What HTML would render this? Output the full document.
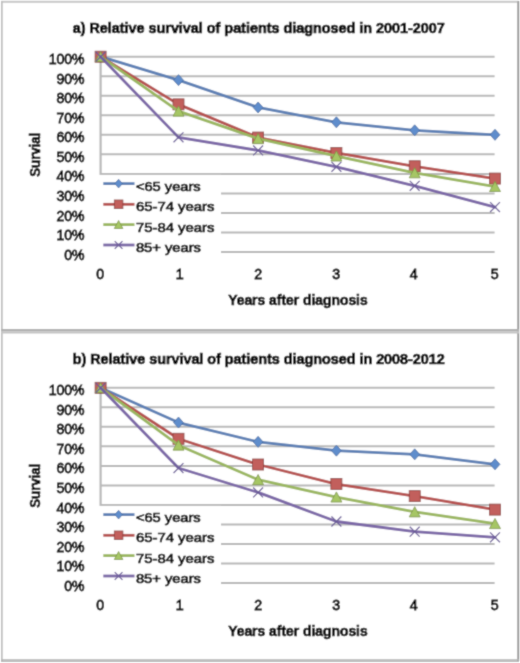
<!DOCTYPE html>
<html><head><meta charset="utf-8"><title>Relative survival</title>
<style>
html,body{margin:0;padding:0;background:#fff;}
body{width:520px;height:663px;overflow:hidden;}
svg{display:block;}
text{font-family:"Liberation Sans", sans-serif;fill:#000;}
.yl{font-size:14px;stroke:#000;stroke-width:0.8px;}
.xl{font-size:14.2px;stroke:#000;stroke-width:0.85px;}
.lg{font-size:13.4px;stroke:#000;stroke-width:0.7px;}
.tt{font-size:14.2px;font-weight:bold;stroke:#000;stroke-width:0.7px;}
.at{font-size:14.2px;font-weight:bold;stroke:#000;stroke-width:0.6px;}
</style></head>
<body>
<svg width="520" height="663" viewBox="0 0 520 663">
<defs><filter id="soft" x="0" y="0" width="520" height="663" filterUnits="userSpaceOnUse"><feConvolveMatrix order="3" kernelMatrix="0.03 0.1 0.03 0.1 0.48 0.1 0.03 0.1 0.03" edgeMode="duplicate" preserveAlpha="true"/></filter></defs>
<g filter="url(#soft)">
<rect width="520" height="663" fill="#fff"/>
<line x1="100.60" y1="252.00" x2="494.6" y2="252.00" stroke="#b8b8b8" stroke-width="2.0"/>
<line x1="100.60" y1="232.47" x2="494.6" y2="232.47" stroke="#b8b8b8" stroke-width="2.0"/>
<line x1="100.60" y1="212.94" x2="494.6" y2="212.94" stroke="#b8b8b8" stroke-width="2.0"/>
<line x1="100.60" y1="193.41" x2="494.6" y2="193.41" stroke="#b8b8b8" stroke-width="2.0"/>
<line x1="100.60" y1="173.88" x2="494.6" y2="173.88" stroke="#b8b8b8" stroke-width="2.0"/>
<line x1="100.60" y1="154.35" x2="494.6" y2="154.35" stroke="#b8b8b8" stroke-width="2.0"/>
<line x1="100.60" y1="134.82" x2="494.6" y2="134.82" stroke="#b8b8b8" stroke-width="2.0"/>
<line x1="100.60" y1="115.29" x2="494.6" y2="115.29" stroke="#b8b8b8" stroke-width="2.0"/>
<line x1="100.60" y1="95.76" x2="494.6" y2="95.76" stroke="#b8b8b8" stroke-width="2.0"/>
<line x1="100.60" y1="76.23" x2="494.6" y2="76.23" stroke="#b8b8b8" stroke-width="2.0"/>
<line x1="100.60" y1="56.70" x2="494.6" y2="56.70" stroke="#b8b8b8" stroke-width="2.0"/>
<line x1="100.60" y1="55.70" x2="100.60" y2="253.00" stroke="#b8b8b8" stroke-width="2.2"/>
<text x="84.5" y="259.60" text-anchor="end" class="yl">0%</text>
<text x="84.5" y="240.07" text-anchor="end" class="yl">10%</text>
<text x="84.5" y="220.54" text-anchor="end" class="yl">20%</text>
<text x="84.5" y="201.01" text-anchor="end" class="yl">30%</text>
<text x="84.5" y="181.48" text-anchor="end" class="yl">40%</text>
<text x="84.5" y="161.95" text-anchor="end" class="yl">50%</text>
<text x="84.5" y="142.42" text-anchor="end" class="yl">60%</text>
<text x="84.5" y="122.89" text-anchor="end" class="yl">70%</text>
<text x="84.5" y="103.36" text-anchor="end" class="yl">80%</text>
<text x="84.5" y="83.83" text-anchor="end" class="yl">90%</text>
<text x="84.5" y="64.30" text-anchor="end" class="yl">100%</text>
<text x="100.30" y="279.30" text-anchor="middle" class="xl">0</text>
<text x="179.60" y="279.30" text-anchor="middle" class="xl">1</text>
<text x="258.10" y="279.30" text-anchor="middle" class="xl">2</text>
<text x="336.20" y="279.30" text-anchor="middle" class="xl">3</text>
<text x="413.80" y="279.30" text-anchor="middle" class="xl">4</text>
<text x="494.60" y="279.30" text-anchor="middle" class="xl">5</text>
<text x="72.7" y="32.80" class="tt" textLength="372" lengthAdjust="spacingAndGlyphs">a) Relative survival of patients diagnosed in 2001-2007</text>
<text transform="translate(40.0 154.70) rotate(-90)" text-anchor="middle" class="at" textLength="44" lengthAdjust="spacingAndGlyphs">Survial</text>
<text x="228.2" y="304.60" class="at" textLength="139.5" lengthAdjust="spacingAndGlyphs">Years after diagnosis</text>
<rect x="98.8" y="174.90" width="122.20" height="78.30" fill="#fff"/>
<polyline points="100.60,56.70 178.50,80.14 258.10,107.48 336.40,122.32 414.70,130.33 495.00,134.82" fill="none" stroke="#5b7fb4" stroke-width="2.8" stroke-linejoin="round" stroke-linecap="round"/>
<path d="M100.60 51.20 L105.55 56.70 L100.60 62.20 L95.65 56.70 Z" fill="#5f8dcc" stroke="#3f67a0" stroke-width="0.8"/>
<path d="M178.50 74.64 L183.45 80.14 L178.50 85.64 L173.55 80.14 Z" fill="#5f8dcc" stroke="#3f67a0" stroke-width="0.8"/>
<path d="M258.10 101.98 L263.05 107.48 L258.10 112.98 L253.15 107.48 Z" fill="#5f8dcc" stroke="#3f67a0" stroke-width="0.8"/>
<path d="M336.40 116.82 L341.35 122.32 L336.40 127.82 L331.45 122.32 Z" fill="#5f8dcc" stroke="#3f67a0" stroke-width="0.8"/>
<path d="M414.70 124.83 L419.65 130.33 L414.70 135.83 L409.75 130.33 Z" fill="#5f8dcc" stroke="#3f67a0" stroke-width="0.8"/>
<path d="M495.00 129.32 L499.95 134.82 L495.00 140.32 L490.05 134.82 Z" fill="#5f8dcc" stroke="#3f67a0" stroke-width="0.8"/>
<polyline points="100.60,56.70 178.50,104.35 258.10,137.55 336.40,152.98 414.70,166.26 495.00,178.57" fill="none" stroke="#b54f4d" stroke-width="2.8" stroke-linejoin="round" stroke-linecap="round"/>
<rect x="95.10" y="51.20" width="11.00" height="11.00" fill="#c25f5b" stroke="#8a3c3b" stroke-width="0.8"/>
<rect x="173.00" y="98.85" width="11.00" height="11.00" fill="#c25f5b" stroke="#8a3c3b" stroke-width="0.8"/>
<rect x="252.60" y="132.05" width="11.00" height="11.00" fill="#c25f5b" stroke="#8a3c3b" stroke-width="0.8"/>
<rect x="330.90" y="147.48" width="11.00" height="11.00" fill="#c25f5b" stroke="#8a3c3b" stroke-width="0.8"/>
<rect x="409.20" y="160.76" width="11.00" height="11.00" fill="#c25f5b" stroke="#8a3c3b" stroke-width="0.8"/>
<rect x="489.50" y="173.07" width="11.00" height="11.00" fill="#c25f5b" stroke="#8a3c3b" stroke-width="0.8"/>
<polyline points="100.60,56.70 178.50,111.19 258.10,138.73 336.40,156.11 414.70,172.90 495.00,186.57" fill="none" stroke="#9ab65e" stroke-width="2.8" stroke-linejoin="round" stroke-linecap="round"/>
<path d="M100.60 51.47 L106.10 61.65 L95.10 61.65 Z" fill="#a6c665" stroke="#7b9443" stroke-width="0.8"/>
<path d="M178.50 105.96 L184.00 116.14 L173.00 116.14 Z" fill="#a6c665" stroke="#7b9443" stroke-width="0.8"/>
<path d="M258.10 133.50 L263.60 143.68 L252.60 143.68 Z" fill="#a6c665" stroke="#7b9443" stroke-width="0.8"/>
<path d="M336.40 150.88 L341.90 161.06 L330.90 161.06 Z" fill="#a6c665" stroke="#7b9443" stroke-width="0.8"/>
<path d="M414.70 167.68 L420.20 177.85 L409.20 177.85 Z" fill="#a6c665" stroke="#7b9443" stroke-width="0.8"/>
<path d="M495.00 181.35 L500.50 191.52 L489.50 191.52 Z" fill="#a6c665" stroke="#7b9443" stroke-width="0.8"/>
<polyline points="100.60,56.70 178.50,137.36 258.10,150.44 336.40,166.85 414.70,185.79 495.00,207.08" fill="none" stroke="#7a66a6" stroke-width="2.8" stroke-linejoin="round" stroke-linecap="round"/>
<path d="M95.65 51.75 L105.55 61.65 M105.55 51.75 L95.65 61.65" stroke="#6a5c98" stroke-width="1.25" fill="none"/>
<path d="M173.55 132.41 L183.45 142.31 M183.45 132.41 L173.55 142.31" stroke="#6a5c98" stroke-width="1.25" fill="none"/>
<path d="M253.15 145.49 L263.05 155.39 M263.05 145.49 L253.15 155.39" stroke="#6a5c98" stroke-width="1.25" fill="none"/>
<path d="M331.45 161.90 L341.35 171.80 M341.35 161.90 L331.45 171.80" stroke="#6a5c98" stroke-width="1.25" fill="none"/>
<path d="M409.75 180.84 L419.65 190.74 M419.65 180.84 L409.75 190.74" stroke="#6a5c98" stroke-width="1.25" fill="none"/>
<path d="M490.05 202.13 L499.95 212.03 M499.95 202.13 L490.05 212.03" stroke="#6a5c98" stroke-width="1.25" fill="none"/>
<line x1="103.3" y1="183.60" x2="134.5" y2="183.60" stroke="#5b7fb4" stroke-width="2.8"/>
<path d="M118.60 179.30 L122.47 183.60 L118.60 187.90 L114.73 183.60 Z" fill="#5f8dcc" stroke="#3f67a0" stroke-width="0.8"/>
<text x="135.9" y="190.50" class="lg" textLength="64.8" lengthAdjust="spacingAndGlyphs">&lt;65 years</text>
<line x1="103.3" y1="204.30" x2="134.5" y2="204.30" stroke="#b54f4d" stroke-width="2.8"/>
<rect x="114.30" y="200.00" width="8.60" height="8.60" fill="#c25f5b" stroke="#8a3c3b" stroke-width="0.8"/>
<text x="135.9" y="211.20" class="lg" textLength="78.6" lengthAdjust="spacingAndGlyphs">65-74 years</text>
<line x1="103.3" y1="224.60" x2="134.5" y2="224.60" stroke="#9ab65e" stroke-width="2.8"/>
<path d="M118.60 220.51 L122.90 228.47 L114.30 228.47 Z" fill="#a6c665" stroke="#7b9443" stroke-width="0.8"/>
<text x="135.9" y="231.50" class="lg" textLength="78.6" lengthAdjust="spacingAndGlyphs">75-84 years</text>
<line x1="103.3" y1="245.00" x2="134.5" y2="245.00" stroke="#7a66a6" stroke-width="2.8"/>
<path d="M114.73 241.13 L122.47 248.87 M122.47 241.13 L114.73 248.87" stroke="#6a5c98" stroke-width="1.25" fill="none"/>
<text x="135.9" y="251.90" class="lg" textLength="65.0" lengthAdjust="spacingAndGlyphs">85+ years</text>
<g transform="translate(0 331)">
</g>
<line x1="100.60" y1="583.00" x2="494.6" y2="583.00" stroke="#b8b8b8" stroke-width="2.0"/>
<line x1="100.60" y1="563.48" x2="494.6" y2="563.48" stroke="#b8b8b8" stroke-width="2.0"/>
<line x1="100.60" y1="543.96" x2="494.6" y2="543.96" stroke="#b8b8b8" stroke-width="2.0"/>
<line x1="100.60" y1="524.44" x2="494.6" y2="524.44" stroke="#b8b8b8" stroke-width="2.0"/>
<line x1="100.60" y1="504.92" x2="494.6" y2="504.92" stroke="#b8b8b8" stroke-width="2.0"/>
<line x1="100.60" y1="485.40" x2="494.6" y2="485.40" stroke="#b8b8b8" stroke-width="2.0"/>
<line x1="100.60" y1="465.88" x2="494.6" y2="465.88" stroke="#b8b8b8" stroke-width="2.0"/>
<line x1="100.60" y1="446.36" x2="494.6" y2="446.36" stroke="#b8b8b8" stroke-width="2.0"/>
<line x1="100.60" y1="426.84" x2="494.6" y2="426.84" stroke="#b8b8b8" stroke-width="2.0"/>
<line x1="100.60" y1="407.32" x2="494.6" y2="407.32" stroke="#b8b8b8" stroke-width="2.0"/>
<line x1="100.60" y1="387.80" x2="494.6" y2="387.80" stroke="#b8b8b8" stroke-width="2.0"/>
<line x1="100.60" y1="386.80" x2="100.60" y2="584.00" stroke="#b8b8b8" stroke-width="2.2"/>
<text x="84.5" y="590.60" text-anchor="end" class="yl">0%</text>
<text x="84.5" y="571.08" text-anchor="end" class="yl">10%</text>
<text x="84.5" y="551.56" text-anchor="end" class="yl">20%</text>
<text x="84.5" y="532.04" text-anchor="end" class="yl">30%</text>
<text x="84.5" y="512.52" text-anchor="end" class="yl">40%</text>
<text x="84.5" y="493.00" text-anchor="end" class="yl">50%</text>
<text x="84.5" y="473.48" text-anchor="end" class="yl">60%</text>
<text x="84.5" y="453.96" text-anchor="end" class="yl">70%</text>
<text x="84.5" y="434.44" text-anchor="end" class="yl">80%</text>
<text x="84.5" y="414.92" text-anchor="end" class="yl">90%</text>
<text x="84.5" y="395.40" text-anchor="end" class="yl">100%</text>
<text x="100.30" y="610.30" text-anchor="middle" class="xl">0</text>
<text x="179.60" y="610.30" text-anchor="middle" class="xl">1</text>
<text x="258.10" y="610.30" text-anchor="middle" class="xl">2</text>
<text x="336.20" y="610.30" text-anchor="middle" class="xl">3</text>
<text x="413.80" y="610.30" text-anchor="middle" class="xl">4</text>
<text x="494.60" y="610.30" text-anchor="middle" class="xl">5</text>
<text x="72.7" y="363.80" class="tt" textLength="372" lengthAdjust="spacingAndGlyphs">b) Relative survival of patients diagnosed in 2008-2012</text>
<text transform="translate(40.0 485.70) rotate(-90)" text-anchor="middle" class="at" textLength="44" lengthAdjust="spacingAndGlyphs">Survial</text>
<text x="228.2" y="635.60" class="at" textLength="139.5" lengthAdjust="spacingAndGlyphs">Years after diagnosis</text>
<rect x="98.8" y="505.90" width="122.20" height="78.30" fill="#fff"/>
<polyline points="100.60,387.80 178.50,422.55 258.10,441.87 336.40,450.65 414.70,454.36 495.00,464.32" fill="none" stroke="#5b7fb4" stroke-width="2.8" stroke-linejoin="round" stroke-linecap="round"/>
<path d="M100.60 382.30 L105.55 387.80 L100.60 393.30 L95.65 387.80 Z" fill="#5f8dcc" stroke="#3f67a0" stroke-width="0.8"/>
<path d="M178.50 417.05 L183.45 422.55 L178.50 428.05 L173.55 422.55 Z" fill="#5f8dcc" stroke="#3f67a0" stroke-width="0.8"/>
<path d="M258.10 436.37 L263.05 441.87 L258.10 447.37 L253.15 441.87 Z" fill="#5f8dcc" stroke="#3f67a0" stroke-width="0.8"/>
<path d="M336.40 445.15 L341.35 450.65 L336.40 456.15 L331.45 450.65 Z" fill="#5f8dcc" stroke="#3f67a0" stroke-width="0.8"/>
<path d="M414.70 448.86 L419.65 454.36 L414.70 459.86 L409.75 454.36 Z" fill="#5f8dcc" stroke="#3f67a0" stroke-width="0.8"/>
<path d="M495.00 458.82 L499.95 464.32 L495.00 469.82 L490.05 464.32 Z" fill="#5f8dcc" stroke="#3f67a0" stroke-width="0.8"/>
<polyline points="100.60,387.80 178.50,438.75 258.10,464.51 336.40,484.03 414.70,496.14 495.00,509.60" fill="none" stroke="#b54f4d" stroke-width="2.8" stroke-linejoin="round" stroke-linecap="round"/>
<rect x="95.10" y="382.30" width="11.00" height="11.00" fill="#c25f5b" stroke="#8a3c3b" stroke-width="0.8"/>
<rect x="173.00" y="433.25" width="11.00" height="11.00" fill="#c25f5b" stroke="#8a3c3b" stroke-width="0.8"/>
<rect x="252.60" y="459.01" width="11.00" height="11.00" fill="#c25f5b" stroke="#8a3c3b" stroke-width="0.8"/>
<rect x="330.90" y="478.53" width="11.00" height="11.00" fill="#c25f5b" stroke="#8a3c3b" stroke-width="0.8"/>
<rect x="409.20" y="490.64" width="11.00" height="11.00" fill="#c25f5b" stroke="#8a3c3b" stroke-width="0.8"/>
<rect x="489.50" y="504.10" width="11.00" height="11.00" fill="#c25f5b" stroke="#8a3c3b" stroke-width="0.8"/>
<polyline points="100.60,387.80 178.50,445.19 258.10,479.74 336.40,497.11 414.70,511.95 495.00,523.66" fill="none" stroke="#9ab65e" stroke-width="2.8" stroke-linejoin="round" stroke-linecap="round"/>
<path d="M100.60 382.57 L106.10 392.75 L95.10 392.75 Z" fill="#a6c665" stroke="#7b9443" stroke-width="0.8"/>
<path d="M178.50 439.96 L184.00 450.14 L173.00 450.14 Z" fill="#a6c665" stroke="#7b9443" stroke-width="0.8"/>
<path d="M258.10 474.51 L263.60 484.69 L252.60 484.69 Z" fill="#a6c665" stroke="#7b9443" stroke-width="0.8"/>
<path d="M336.40 491.89 L341.90 502.06 L330.90 502.06 Z" fill="#a6c665" stroke="#7b9443" stroke-width="0.8"/>
<path d="M414.70 506.72 L420.20 516.90 L409.20 516.90 Z" fill="#a6c665" stroke="#7b9443" stroke-width="0.8"/>
<path d="M495.00 518.43 L500.50 528.61 L489.50 528.61 Z" fill="#a6c665" stroke="#7b9443" stroke-width="0.8"/>
<polyline points="100.60,387.80 178.50,468.03 258.10,492.43 336.40,521.51 414.70,531.66 495.00,537.32" fill="none" stroke="#7a66a6" stroke-width="2.8" stroke-linejoin="round" stroke-linecap="round"/>
<path d="M95.65 382.85 L105.55 392.75 M105.55 382.85 L95.65 392.75" stroke="#6a5c98" stroke-width="1.25" fill="none"/>
<path d="M173.55 463.08 L183.45 472.98 M183.45 463.08 L173.55 472.98" stroke="#6a5c98" stroke-width="1.25" fill="none"/>
<path d="M253.15 487.48 L263.05 497.38 M263.05 487.48 L253.15 497.38" stroke="#6a5c98" stroke-width="1.25" fill="none"/>
<path d="M331.45 516.56 L341.35 526.46 M341.35 516.56 L331.45 526.46" stroke="#6a5c98" stroke-width="1.25" fill="none"/>
<path d="M409.75 526.71 L419.65 536.61 M419.65 526.71 L409.75 536.61" stroke="#6a5c98" stroke-width="1.25" fill="none"/>
<path d="M490.05 532.37 L499.95 542.27 M499.95 532.37 L490.05 542.27" stroke="#6a5c98" stroke-width="1.25" fill="none"/>
<line x1="103.3" y1="514.60" x2="134.5" y2="514.60" stroke="#5b7fb4" stroke-width="2.8"/>
<path d="M118.60 510.30 L122.47 514.60 L118.60 518.90 L114.73 514.60 Z" fill="#5f8dcc" stroke="#3f67a0" stroke-width="0.8"/>
<text x="135.9" y="521.50" class="lg" textLength="64.8" lengthAdjust="spacingAndGlyphs">&lt;65 years</text>
<line x1="103.3" y1="535.30" x2="134.5" y2="535.30" stroke="#b54f4d" stroke-width="2.8"/>
<rect x="114.30" y="531.00" width="8.60" height="8.60" fill="#c25f5b" stroke="#8a3c3b" stroke-width="0.8"/>
<text x="135.9" y="542.20" class="lg" textLength="78.6" lengthAdjust="spacingAndGlyphs">65-74 years</text>
<line x1="103.3" y1="555.60" x2="134.5" y2="555.60" stroke="#9ab65e" stroke-width="2.8"/>
<path d="M118.60 551.51 L122.90 559.47 L114.30 559.47 Z" fill="#a6c665" stroke="#7b9443" stroke-width="0.8"/>
<text x="135.9" y="562.50" class="lg" textLength="78.6" lengthAdjust="spacingAndGlyphs">75-84 years</text>
<line x1="103.3" y1="576.00" x2="134.5" y2="576.00" stroke="#7a66a6" stroke-width="2.8"/>
<path d="M114.73 572.13 L122.47 579.87 M122.47 572.13 L114.73 579.87" stroke="#6a5c98" stroke-width="1.25" fill="none"/>
<text x="135.9" y="582.90" class="lg" textLength="65.0" lengthAdjust="spacingAndGlyphs">85+ years</text>
<rect x="1" y="0.8" width="518" height="2" fill="#c8c8c8"/>
<rect x="1.0" y="1" width="1.7" height="660" fill="#bdbdbd"/>
<rect x="517" y="1" width="1" height="660" fill="#b2b2b2"/>
<rect x="518" y="1" width="1.2" height="660" fill="#969696"/>
<rect x="1" y="329.0" width="518" height="2.2" fill="#b0b0b0"/>
<rect x="1" y="331.2" width="518" height="2.3" fill="#c4c4c4"/>
<rect x="1" y="659.2" width="518" height="1.4" fill="#b6b6b6"/>
<rect x="1" y="660.6" width="518" height="1.2" fill="#a6a6a6"/>
</g>
</svg>
</body></html>
